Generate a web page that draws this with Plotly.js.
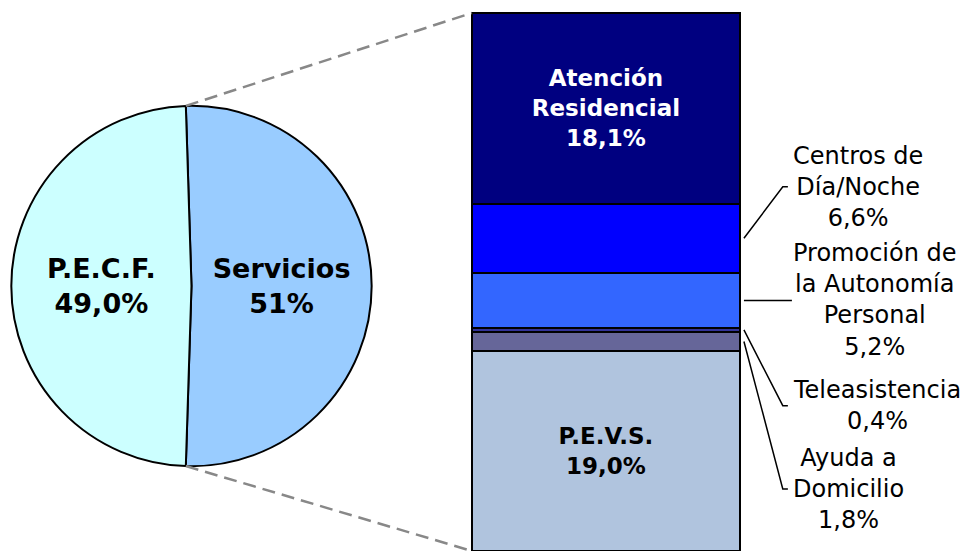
<!DOCTYPE html>
<html>
<head>
<meta charset="utf-8">
<script src="https://cdn.plot.ly/plotly-3.0.1.min.js"></script>
<style>
  html, body { margin: 0; padding: 0; background: #fff; }
  #chart { width: 972px; height: 551px; }
</style>
</head>
<body>
<div id="chart"></div>
<script>
// pie: share of the total
const pieLabels = ['Servicios', 'P.E.C.F.'];
const pieValues = [51.0, 49.0];
const pieDecimals = [0, 1];
const pieColors = ['#99ccff', '#ccffff'];

// bar: breakdown of "Servicios", bottom to top
const barLabels = ['P.E.V.S.', 'Ayuda a<br>Domicilio', 'Teleasistencia', 'Promoción de<br>la Autonomía<br>Personal', 'Centros de<br>Día/Noche', 'Atención<br>Residencial'];
const barValues = [19.0, 1.8, 0.4, 5.2, 6.6, 18.1];
const barColors = ['#b0c4de', '#666699', '#333399', '#3366ff', '#0000ff', '#000080'];
const insideText = [true, false, false, false, false, true];
const insideColor = ['#000000', '', '', '', '', '#ffffff'];
// where the callout text sits (null = level with the segment)
const labelY = [null, 5.9, 13.8, null, 34.6, null];

const FONT = 'DejaVu Sans, Verdana, sans-serif';
const fmt = (v, d) => v.toFixed(d).replace('.', ',') + '%';

const pieDomX = [0.0113, 0.3827];
const pieDomY = [0.154, 0.808];
const barDomX = [0.48, 1];
const xRange = [-0.52, 1.366];
const yRange = [0, 52.33];

const pieTotal = pieValues.reduce((a, b) => a + b, 0);
const traces = [{
  type: 'pie',
  labels: pieLabels,
  values: pieValues,
  text: pieLabels.map((l, i) => `<b>${l}<br>${fmt(pieValues[i], pieDecimals[i])}</b>`),
  textinfo: 'text',
  textposition: 'inside',
  insidetextorientation: 'horizontal',
  textfont: { family: FONT, size: 27, color: '#000' },
  sort: false,
  direction: 'clockwise',
  rotation: 90 - 180 * pieValues[0] / pieTotal,
  marker: { colors: pieColors, line: { color: '#000', width: 2 } },
  domain: { x: pieDomX, y: pieDomY },
  hoverinfo: 'none'
}];

barValues.forEach((v, i) => {
  traces.push({
    type: 'bar',
    x: [0],
    y: [v],
    width: [1],
    marker: { color: barColors[i], line: { color: '#000', width: 2 } },
    text: insideText[i] ? [`<b>${barLabels[i]}<br>${fmt(v, 1)}</b>`] : [''],
    textposition: 'inside',
    insidetextanchor: 'middle',
    textangle: 0,
    textfont: { family: FONT, size: 23, color: insideColor[i] || '#000' },
    hoverinfo: 'none',
    xaxis: 'x', yaxis: 'y'
  });
});

// callouts for the thin segments
const shapes = [];
const annotations = [];
let base = 0;
barValues.forEach((v, i) => {
  const mid = base + v / 2;
  base += v;
  if (insideText[i]) return;
  const ly = labelY[i] === null ? mid : labelY[i];
  let path;
  if (labelY[i] === null) {
    path = `M 0.515 ${mid} L 0.694 ${ly}`;
  } else {
    path = `M 0.515 ${mid} L 0.66 ${ly} L 0.679 ${ly}`;
  }
  shapes.push({ type: 'path', xref: 'x', yref: 'y', path: path,
    line: { color: '#000', width: 1.5 } });
  annotations.push({
    xref: 'x', yref: 'y', x: 0.69, y: ly,
    xanchor: 'left', yanchor: 'middle', align: 'center',
    text: `${barLabels[i]}<br>${fmt(v, 1)}`,
    showarrow: false,
    font: { family: FONT, size: 24, color: '#000' }
  });
});

// dashed connectors from the pie to the bar
const W = 972, H = 551;
const pieCx = (pieDomX[0] + pieDomX[1]) / 2 * W;
const pieR = Math.min((pieDomX[1] - pieDomX[0]) * W, (pieDomY[1] - pieDomY[0]) * H) / 2;
const pieCy = (1 - (pieDomY[0] + pieDomY[1]) / 2) * H;
const ang = (90 - 180 * pieValues[0] / pieTotal) * Math.PI / 180;
const topPt = [pieCx + pieR * Math.sin(ang), pieCy - pieR * Math.cos(ang)];
const botPt = [topPt[0], pieCy + pieR * Math.cos(ang)];
const xPx = xd => barDomX[0] * W + (xd - xRange[0]) / (xRange[1] - xRange[0]) * (barDomX[1] - barDomX[0]) * W;
const yPx = yd => H - (yd - yRange[0]) / (yRange[1] - yRange[0]) * H;
const barLeft = xPx(-0.5);
const dash = { color: '#888888', width: 2.5, dash: '13px,7px' };
shapes.push({ type: 'line', xref: 'paper', yref: 'paper',
  x0: topPt[0] / W, y0: 1 - topPt[1] / H, x1: barLeft / W, y1: 1 - yPx(base) / H, line: dash });
shapes.push({ type: 'line', xref: 'paper', yref: 'paper',
  x0: botPt[0] / W, y0: 1 - botPt[1] / H, x1: barLeft / W, y1: 1 - yPx(0) / H, line: dash });

const layout = {
  width: W, height: H,
  margin: { l: 0, r: 0, t: 0, b: 0 },
  paper_bgcolor: '#fff', plot_bgcolor: 'rgba(0,0,0,0)',
  showlegend: false,
  barmode: 'stack',
  xaxis: { domain: barDomX, range: xRange, visible: false, fixedrange: true },
  yaxis: { domain: [0, 1], range: yRange, visible: false, fixedrange: true },
  shapes: shapes,
  annotations: annotations,
  font: { family: FONT }
};

Plotly.newPlot('chart', traces, layout, { staticPlot: true });
</script>
</body>
</html>
